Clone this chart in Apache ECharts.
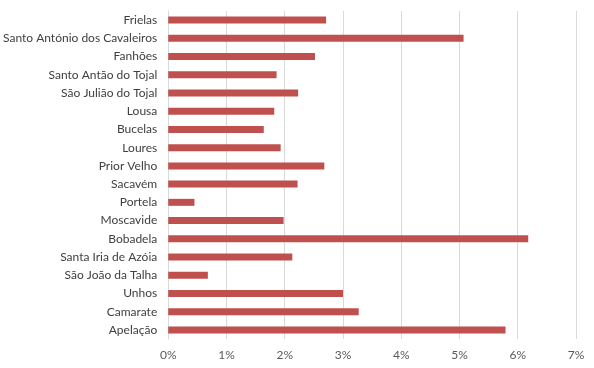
<!DOCTYPE html>
<html><head><meta charset="utf-8">
<script src="https://cdn.jsdelivr.net/npm/echarts@6/dist/echarts.min.js"></script>
<style>html,body{margin:0;padding:0;background:#fff}#c{width:594px;height:368px}</style>
</head><body><div id="c"></div>
<script>
const categories = ["Frielas","Santo António dos Cavaleiros","Fanhões","Santo Antão do Tojal","São Julião do Tojal","Lousa","Bucelas","Loures","Prior Velho","Sacavém","Portela","Moscavide","Bobadela","Santa Iria de Azóia","São João da Talha","Unhos","Camarate","Apelação"];
const values = [2.71,5.07,2.52,1.86,2.23,1.82,1.64,1.93,2.68,2.22,0.45,1.98,6.18,2.13,0.68,3.00,3.27,5.79];
const xTicks = [0,1,2,3,4,5,6,7];

const chart = echarts.init(document.getElementById('c'), null, {renderer:'canvas'});
chart.setOption({
  animation:false,
  grid:{left:165,right:18,top:11,bottom:29,containLabel:false},
  xAxis:{type:'value',min:xTicks[0],max:xTicks[xTicks.length-1],interval:1,
    axisLine:{show:false},axisTick:{show:false},
    axisLabel:{formatter:v=>v+'%',color:'#595959',fontFamily:'Lato',fontSize:12,margin:10},
    splitLine:{lineStyle:{color:'#d9d9d9',width:1}}},
  yAxis:{type:'category',data:categories,inverse:true,
    axisLine:{show:true,lineStyle:{color:'#d9d9d9'}},axisTick:{show:false},
    axisLabel:{color:'#404040',fontFamily:'Lato',fontSize:12,margin:11}},
  series:[{type:'bar',data:values,barWidth:7,itemStyle:{color:'#c0504d'}}]
});
</script></body></html>
